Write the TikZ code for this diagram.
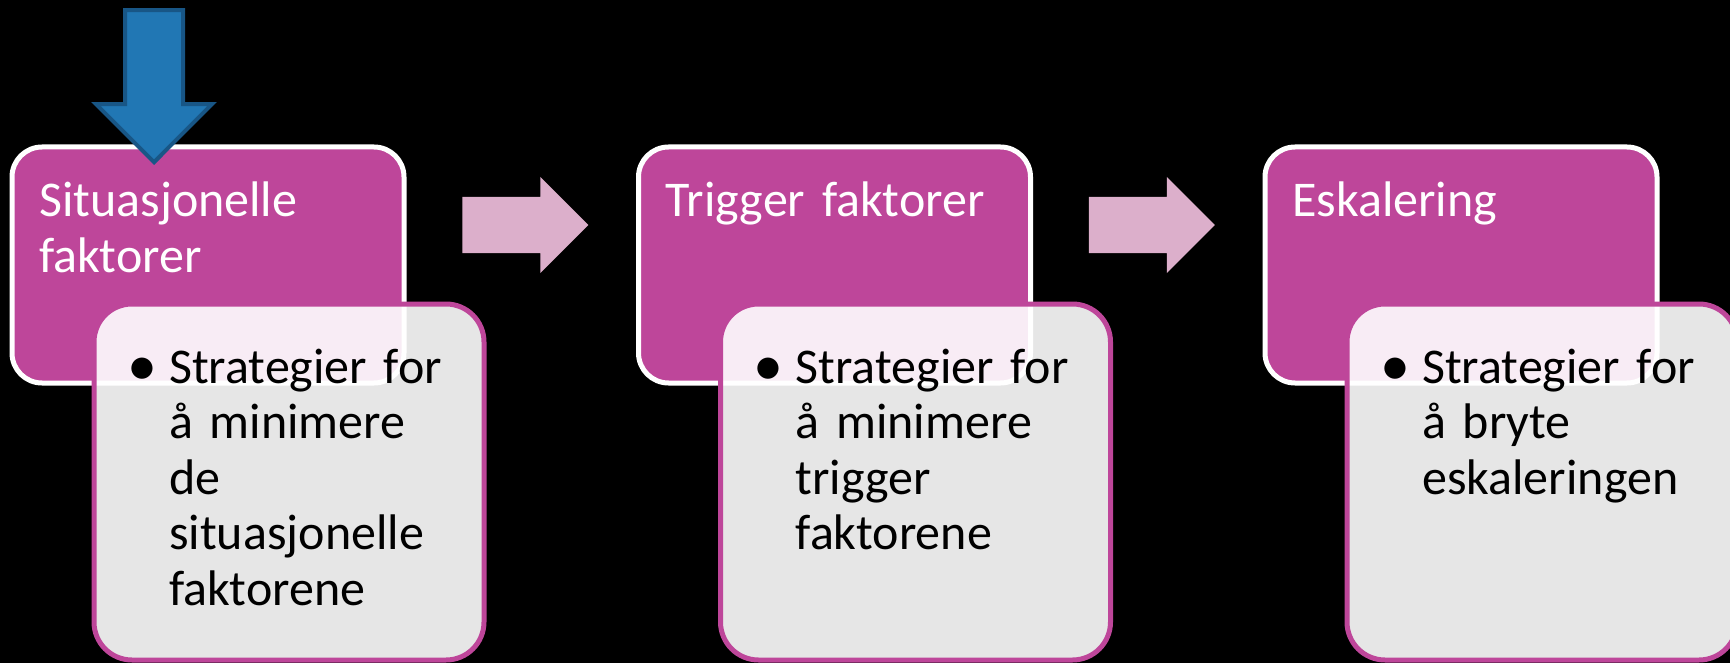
\documentclass[tikz,border=0pt]{standalone}
\usepackage{fontspec}
\setmainfont{Carlito}
\usetikzlibrary{shapes.arrows, positioning, calc}

\definecolor{boxmagenta}{RGB}{190,70,154}
\definecolor{arrowpink}{RGB}{220,175,203}
\definecolor{arrowblue}{RGB}{33,119,180}
\definecolor{edgeblue}{RGB}{24,86,134}

\newcommand\punkt[1]{\noindent
    \llap{\makebox[33pt][l]{\hspace*{-9pt}\raisebox{-2pt}{\fontsize{60}{55}\selectfont\textbullet}}}#1}

\begin{document}
\begin{tikzpicture}[x=1pt, y=-1pt,
    headbox/.style = {rectangle, rounded corners=30pt, fill=boxmagenta, draw=white, line width=5pt,
                      minimum width=392pt, minimum height=236pt, inner sep=0pt, outer sep=0pt},
    notebox/.style = {rectangle, rounded corners=38pt, fill=white, fill opacity=0.9, draw=boxmagenta,
                      line width=5pt, minimum width=390pt, minimum height=356pt, inner sep=0pt, outer sep=0pt},
    headtext/.style = {text=white, text width=350pt, inner sep=0pt, anchor=base west,
                       font=\fontsize{50}{55.5}\selectfont},
    notetext/.style = {text=black, text width=300pt, inner sep=0pt, anchor=base west,
                       font=\fontsize{50}{55.5}\selectfont},
    flowarrow/.style = {single arrow, fill=arrowpink, minimum height=126pt, single arrow head extend=20pt,
                        inner xsep=0pt, inner ysep=28pt, anchor=tail},
    startarrow/.style = {single arrow, fill=arrowblue, draw=edgeblue, line width=4pt, minimum height=152pt,
                         single arrow head extend=29pt, inner xsep=0pt, inner ysep=27pt, rotate=-90}
]
    \fill[black] (0,0) rectangle (1730,663);
    \useasboundingbox (0,0) rectangle (1730,663);

    \def\notex{82}
    \def\notey{157}

    % first step
    \node[headbox, anchor=north west] (top1) at (12,147) {};
    \node[headtext] (head1) at ([shift={(27,70)}]top1.north west) {Situasjonelle\\faktorer};
    \node[notebox, anchor=north west] (note1) at ([shift={(\notex,\notey)}]top1.north west) {};
    \node[notetext] (body1) at ([shift={(75,79)}]note1.north west)
        {\punkt{Strategier for\\å minimere\\de\\situasjonelle\\faktorene}};

    % second step
    \node[headbox, right=234.5pt of top1] (top2) {};
    \node[headtext] (head2) at ([shift={(27,70)}]top2.north west) {Trigger faktorer};
    \node[notebox, anchor=north west] (note2) at ([shift={(\notex,\notey)}]top2.north west) {};
    \node[notetext] (body2) at ([shift={(75,79)}]note2.north west)
        {\punkt{Strategier for\\å minimere\\trigger\\faktorene}};

    % third step
    \node[headbox, right=234.5pt of top2] (top3) {};
    \node[headtext] (head3) at ([shift={(27,70)}]top3.north west) {Eskalering};
    \node[notebox, anchor=north west] (note3) at ([shift={(\notex,\notey)}]top3.north west) {};
    \node[notetext] (body3) at ([shift={(75,79)}]note3.north west)
        {\punkt{Strategier for\\å bryte\\eskaleringen}};

    % arrows
    \node[flowarrow] (go12) at ($(top1.east)!0.5!(top2.west) + (-59,-40)$) {};
    \node[flowarrow] (go23) at ($(top2.east)!0.5!(top3.west) + (-59,-40)$) {};
    \node[startarrow, anchor=tip] (start) at ([shift={(142,18)}]top1.north west) {};
\end{tikzpicture}
\end{document}
